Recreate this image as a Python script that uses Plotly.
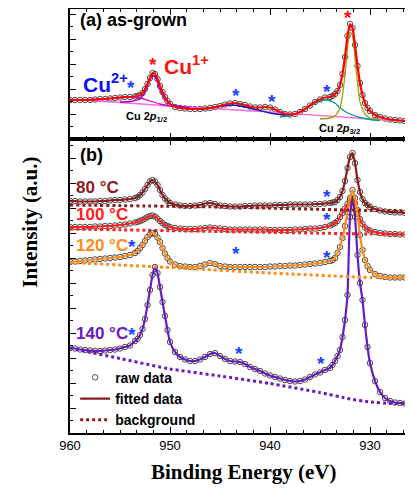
import plotly.graph_objects as go

# ---------------- data (binding energy in eV, intensity in a.u.) ----------------
energy = [960, 959.5, 959, 958.5, 958, 957.5, 957, 956.5, 956, 955.5, 955, 954.5, 954,
          953.5, 953.25, 953, 952.75, 952.5, 952.25, 952, 951.75, 951.5, 951.25, 951, 950.75, 950.5, 950.25, 950,
          949.5, 949, 948.5, 948, 947.5, 947, 946.5, 946, 945.5, 945, 944.5, 944, 943.5, 943, 942.5, 942,
          941.5, 941, 940.5, 940, 939.5, 939, 938.5, 938, 937.5, 937, 936.5, 936, 935.5, 935, 934.5, 934,
          933.75, 933.5, 933.25, 933, 932.75, 932.5, 932.25, 932, 931.75, 931.5, 931.25, 931, 930.75, 930.5, 930.25, 930,
          929.5, 929, 928.5, 928, 927.5, 927, 926.5, 926]

# (a) as-grown
as_grown = [39, 39, 39, 39, 39, 39.5, 40, 40, 40.5, 41, 41.5, 42, 42,
            42.5, 43, 44, 46, 50, 55, 61, 66, 65, 60, 53, 47, 42, 38, 35,
            32, 31, 30.5, 30, 30, 30, 30.5, 31, 32, 33, 34.5, 35.5, 36, 35, 34, 32.5,
            31.5, 31.5, 32, 31.5, 29.5, 27, 25, 24.5, 25, 27, 30, 33.5, 37, 39.5, 41.5, 42,
            43, 45, 48, 54, 65, 82, 103, 115, 111, 94, 73, 56, 44, 36, 31, 28,
            24, 22, 20.5, 19.5, 19, 18.5, 18, 17.5]

# fitted components of (a)
bg_a_energy = [960, 950, 940, 930, 925.7]
bg_a = [40, 33, 27, 20, 17]
cu1_32_energy = [935, 934, 933.5, 933, 932.75, 932.5, 932.25, 932, 931.75, 931.5, 931.25, 931, 930.5, 930, 929]
cu1_32 = [20, 21, 23, 31, 44, 64, 91, 107, 103, 81, 56, 37, 25, 21, 20]
cu2_32_energy = [939, 938, 937, 936, 935, 934.3, 933.5, 933, 932, 931, 930, 929]
cu2_32 = [22, 23.5, 27, 33, 38, 39, 36, 31, 25, 21.5, 19.5, 18.5]
sat_32_energy = [947, 946, 945, 944, 943, 942, 941, 940, 939, 938]
sat_32 = [29.5, 31, 32.5, 34, 33, 31, 28.5, 26, 24.5, 23.5]
cu1_12_energy = [955, 954, 953, 952.5, 952.25, 952, 951.75, 951.5, 951.25, 951, 950.5, 950, 949, 948]
cu1_12 = [37, 37.5, 40, 47, 53, 59, 63, 62, 57, 49, 40, 35, 32.5, 31.5]
sat_12_energy = [960, 958, 956, 955, 954, 953, 952, 951, 950, 948]
sat_12 = [39, 39.5, 40.5, 41.5, 42, 41, 38, 35, 33, 31]

# (b) annealed
t80 = [232, 232, 231.5, 231.5, 231.5, 231.5, 232, 232, 232.5, 233, 233, 233.5, 234,
       235, 236, 238, 240.5, 244, 248, 251.5, 253, 251.5, 248, 243, 238, 234.5, 232, 230,
       228.5, 227.5, 227, 227, 227.5, 228, 229.5, 230, 229, 227.5, 227, 226.5, 226.5, 226.5, 227, 227,
       227.5, 227.5, 227.5, 227.5, 228, 228, 228, 228.5, 228.5, 228.5, 228.5, 228.5, 229, 229, 229.5, 230,
       230.5, 231, 233, 236, 242, 252, 265, 276, 280, 270, 253, 241, 234, 230, 228, 226,
       224, 222.5, 221.5, 221, 220.5, 220.5, 220, 220]
t100 = [206, 206, 206, 206, 206, 206.5, 206.5, 207, 207, 207.5, 208, 208.5, 209.5,
        210.5, 211, 212, 213, 214.5, 216, 217, 217.5, 216.5, 214.5, 212, 210, 208, 207, 206,
        205, 204.5, 204, 204, 204, 204.5, 205, 205.5, 205, 204.5, 204, 203.5, 203.5, 203.5, 203.5, 203.5,
        203.5, 203.5, 203.5, 203, 203, 203, 203, 203, 203.5, 203.5, 204, 204.5, 204.5, 205, 206, 207.5,
        208.5, 210, 212, 216, 220, 224.5, 229, 232.5, 233.5, 230, 223, 214, 209, 205.5, 203.5, 202.5,
        201, 200, 199.5, 199, 199, 198.5, 198.5, 198]
t120 = [171, 171.5, 172, 172.5, 173, 173.5, 174, 174.5, 175, 175.5, 176, 177, 178,
        180, 182, 185, 188, 192, 196, 198.5, 200, 199, 195.5, 191, 185, 179.5, 175, 171.5,
        168.5, 167, 166.5, 166, 166, 167, 168.5, 170, 169, 167, 166.5, 166, 166, 166, 166, 166,
        166, 166, 166, 166.5, 166.5, 167, 167, 167.5, 167.5, 168, 168.5, 169, 169.5, 170, 171, 172,
        173, 175, 180, 186, 195, 207, 221, 235, 243, 235, 219, 198, 183, 173, 167, 163,
        159, 157, 156, 155.5, 155.5, 155.5, 155.5, 155.5]
t140 = [85, 84.5, 83.5, 83, 82.5, 82, 82, 82.5, 83, 83.5, 84.5, 86, 87.5,
        92, 94, 98, 104, 114, 128, 143, 158, 166, 160, 146, 131, 117, 103, 91,
        81, 76, 73.5, 72, 72, 73.5, 76, 79, 80, 77, 74, 72, 71.5, 71, 69, 66,
        64, 62, 59.5, 57.5, 56, 54.5, 53, 52, 51.5, 52, 53.5, 56, 58.5, 60.5, 63, 65,
        68, 72, 77, 83, 96, 113, 138, 216, 235, 216, 178, 150, 133, 108, 86, 70,
        52, 41, 35, 32, 30.5, 30, 29.5, 29]

bg_energy = [960, 945, 930, 925.7]
bg80 = [228, 226, 222.5, 222]
bg100 = [204, 201.5, 199, 198.5]
bg120_energy = [960, 950, 940, 930, 925.7]
bg120 = [170.5, 165.5, 160, 155.5, 155]
bg140_energy = [960, 955, 950, 945, 940, 935, 932, 930, 928, 925.7]
bg140 = [85, 74.5, 64, 57, 49.5, 40.5, 34, 31, 29.5, 29.5]

temps = ["80 °C", "100 °C", "120 °C", "140 °C"]
label_levels = [246, 219, 188, 100]

# peak markers (energy, intensity)
stars_a_blue = [(953.9, 56), (943.4, 48), (939.8, 42), (934.3, 52)]
stars_a_red = [(951.7, 79), (932.2, 126)]
stars_b_blue = [(934.3, 241), (934.3, 218), (953.8, 191), (943.4, 184), (934.3, 180),
                (953.8, 103), (943.1, 84), (934.9, 74)]

# ---------------- styling ----------------
ARIAL = "Arial, Liberation Sans, sans-serif"
TIMES = "Times New Roman, Liberation Serif, serif"
C80, C100, C120, C140 = "#8E1B1B", "#FF2020", "#FF8C1A", "#6A1BBF"
BLUE = "#2040FF"
RAW = dict(symbol="circle-open", size=5.5, color="#3a3a3a", line=dict(width=0.9))

fig = go.Figure()

# ---- panel (a) ----
fig.add_trace(go.Scatter(x=energy, y=as_grown, mode="markers", marker=RAW,
                         xaxis="x2", yaxis="y2", showlegend=False))
comp = [(bg_a_energy, bg_a, "#FF66E0"), (sat_12_energy, sat_12, "#E000E0"),
        (cu1_12_energy, cu1_12, "#9A00C8"), (sat_32_energy, sat_32, "#1010C0"),
        (cu2_32_energy, cu2_32, "#009A9A"), (cu1_32_energy, cu1_32, "#A0A000")]
for ex, yy, col in comp:
    fig.add_trace(go.Scatter(x=ex, y=yy, mode="lines", line=dict(color=col, width=1.3, shape="spline", smoothing=0.6),
                             xaxis="x2", yaxis="y2", showlegend=False))
fig.add_trace(go.Scatter(x=energy, y=as_grown, mode="lines",
                         line=dict(color="#FF0000", width=2.2, shape="spline", smoothing=0.5),
                         xaxis="x2", yaxis="y2", showlegend=False))

# ---- panel (b) ----
series = [
    (t140, bg140_energy, bg140, C140, False),
    (t100, bg_energy, bg100, C100, False),
    (t120, bg120_energy, bg120, C120, False),
    (t80, bg_energy, bg80, C80, True),
]
for vals, bge, bgv, col, leg in series:
    fig.add_trace(go.Scatter(x=energy, y=vals, mode="markers", marker=RAW,
                             name="raw data", showlegend=leg, legendrank=1))
    fig.add_trace(go.Scatter(x=energy, y=vals, mode="lines",
                             line=dict(color=col, width=2.2, shape="spline", smoothing=0.5),
                             name="fitted data", showlegend=leg, legendrank=2))
    fig.add_trace(go.Scatter(x=bge, y=bgv, mode="lines",
                             line=dict(color=col, width=3, dash="dot", shape="spline", smoothing=0.4),
                             name="background", showlegend=leg, legendrank=3))

ann = []
def txt(x, y, t, size, color="black", xref="x", yref="y", xanchor="left", yanchor="middle", family=ARIAL, **kw):
    ann.append(dict(x=x, y=y, xref=xref, yref=yref, text=t, showarrow=False, xanchor=xanchor,
                    yanchor=yanchor, font=dict(family=family, size=size, color=color, weight="bold"), **kw))

txt(959.2, 119, "(a) as-grown", 18, xref="x2", yref="y2")
txt(958.9, 56, "Cu<sup>2+</sup>", 21, color="#1010F0", xref="x2", yref="y2")
txt(950.8, 74, "Cu<sup>1+</sup>", 21, color="#FF1010", xref="x2", yref="y2")
txt(954.6, 22, "Cu 2<i>p</i><sub>1/2</sub>", 11, xref="x2", yref="y2")
txt(935.3, 10, "Cu 2<i>p</i><sub>3/2</sub>", 11, xref="x2", yref="y2")
for ex, v in stars_a_blue:
    txt(ex, v, "*", 19, color=BLUE, xref="x2", yref="y2", xanchor="center", yshift=-4)
for ex, v in stars_a_red:
    txt(ex, v, "*", 19, color="#FF1010", xref="x2", yref="y2", xanchor="center", yshift=-4)

txt(959.2, 278, "(b)", 18)
for t, lv, col in zip(temps, label_levels, [C80, C100, C120, C140]):
    txt(959.6, lv, t, 17, color=col)
for ex, v in stars_b_blue:
    txt(ex, v, "*", 19, color=BLUE, xanchor="center", yshift=-4)

txt(-0.117, 0.498, "Intensity (a.u.)", 21, xref="paper", yref="paper", xanchor="center", family=TIMES, textangle=-90)
txt(0.507, -0.092, "Binding Energy (eV)", 21, xref="paper", yref="paper", xanchor="center", family=TIMES)

SPLIT = 294 / 424
xcommon = dict(range=[960, 925.7], showline=True, linecolor="black", linewidth=1.5,
               ticks="inside", ticklen=6, tickwidth=1.3, tickcolor="black", dtick=10, tick0=960,
               minor=dict(dtick=10 / 6, ticks="inside", ticklen=3.5, tickwidth=1.1, tickcolor="black"),
               showgrid=False, zeroline=False, mirror="ticks")
ycommon = dict(showline=True, linecolor="black", linewidth=1.5, ticks="inside", ticklen=6,
               tickwidth=1.3, tickcolor="black", dtick=25, tick0=0, showticklabels=False,
               minor=dict(dtick=12.5, ticks="inside", ticklen=3.5, tickwidth=1.1, tickcolor="black"),
               showgrid=False, zeroline=False)

# the page body adds an 8px offset, so the figure is 8px smaller and margins reduced accordingly
fig.update_layout(
    width=405, height=480, margin=dict(l=62, r=0, t=1, b=55),
    paper_bgcolor="white", plot_bgcolor="white",
    xaxis=dict(**xcommon, anchor="y", tickfont=dict(family=ARIAL, size=13, color="black")),
    xaxis2=dict(**xcommon, anchor="y2", matches="x", showticklabels=False),
    yaxis=dict(**ycommon, domain=[0, SPLIT], range=[0, 294]),
    yaxis2=dict(**ycommon, domain=[SPLIT, 1], range=[0, 130]),
    legend=dict(x=0.015, y=0.168, xanchor="left", yanchor="top", bgcolor="rgba(0,0,0,0)",
                font=dict(family=ARIAL, size=14, color="black", weight="bold"),
                tracegroupgap=0, itemwidth=30),
    annotations=ann,
)

fig.write_html("out.html")
